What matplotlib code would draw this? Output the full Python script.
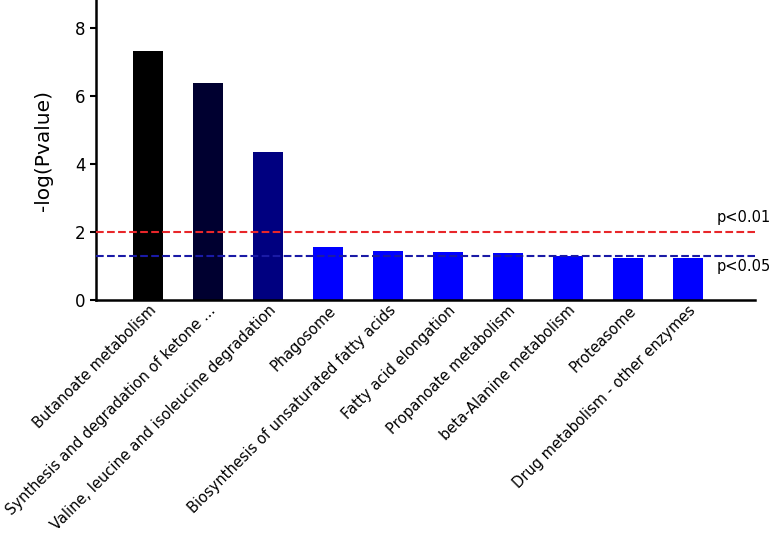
import numpy as np
import matplotlib.pyplot as plt

pathways = [
    "Butanoate metabolism",
    "Synthesis and degradation of ketone ...",
    "Valine, leucine and isoleucine degradation",
    "Phagosome",
    "Biosynthesis of unsaturated fatty acids",
    "Fatty acid elongation",
    "Propanoate metabolism",
    "beta-Alanine metabolism",
    "Proteasome",
    "Drug metabolism - other enzymes",
]
neg_log_p = [7.33, 6.37, 4.35, 1.57, 1.43, 1.41, 1.37, 1.30, 1.235, 1.235]
bar_colors = ["#000000", "#000030", "#000080", "#0000ff", "#0000ff",
              "#0000ff", "#0000ff", "#0000ff", "#0000ff", "#0000ff"]
cut_01 = 2.0
cut_05 = 1.301

fig = plt.figure(figsize=(7.7, 5.37), dpi=100)
ax = fig.add_axes([0.1247, 0.4413, 0.856, 0.5587])

x = np.arange(len(pathways))
ax.bar(x, neg_log_p, width=0.5, color=bar_colors, zorder=2)

ax.axhline(cut_01, color="#e8262a", ls="--", lw=1.5, zorder=3)
ax.axhline(cut_05, color="#1a1aa6", ls="--", lw=1.5, zorder=3)
ax.text(9.47, 2.44, "p<0.01", fontsize=10.5, va="center", ha="left")
ax.text(9.47, 1.0, "p<0.05", fontsize=10.5, va="center", ha="left")

ax.set_xlim(-0.87, 10.12)
ax.set_ylim(0, 8.82)
ax.set_yticks([0, 2, 4, 6, 8])
ax.tick_params(axis="y", labelsize=12, width=1.5, length=4)
ax.tick_params(axis="x", length=0, pad=2)
ax.set_xticks(x)
ax.set_xticklabels(pathways, rotation=45, ha="right", rotation_mode="anchor",
                   fontsize=10.5)
ax.set_ylabel("-log(Pvalue)", fontsize=14.5, labelpad=16)

for side in ["top", "right"]:
    ax.spines[side].set_visible(False)
for side in ["left", "bottom"]:
    ax.spines[side].set_linewidth(1.8)

fig.savefig("out.png", dpi=100)
